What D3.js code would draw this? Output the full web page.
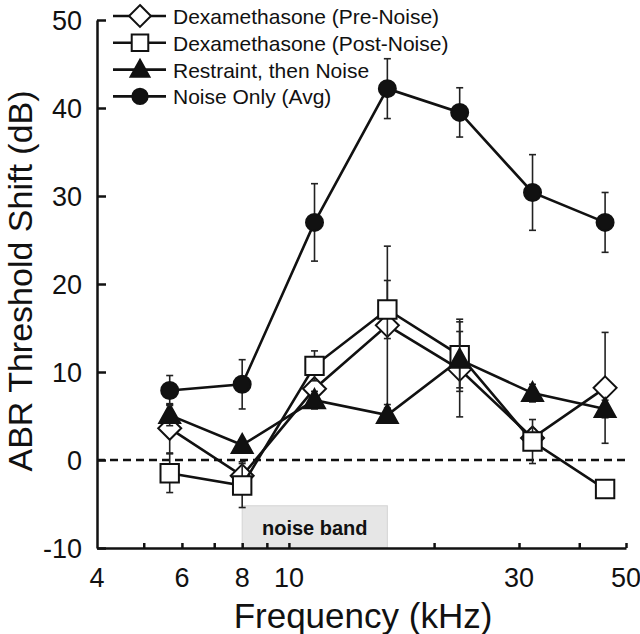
<!DOCTYPE html>
<html>
<head>
<meta charset="utf-8">
<script src="https://cdn.jsdelivr.net/npm/d3@7"></script>
<style>
  body { margin: 0; background: #fff; }
  text { font-family: "Liberation Sans", Arial, Helvetica, sans-serif; fill: #111; }
</style>
</head>
<body>
<div class="chart"></div>
<script>
// data
var freqs = [5.66, 8, 11.3, 16, 22.6, 32, 45.25];

var preNoise = [3.6, -1.8, 8.1, 15.3, 10.3, 2.5, 8.2];
var preNoiseErr = [2.8, 1.6, 1.0, 9.0, 5.4, 1.0, 6.3];

var postNoise = [-1.5, -2.9, 10.7, 17.1, 11.9, 2.1, -3.3];
var postNoiseErr = [2.2, 2.5, 1.7, 3.3, 4.1, 2.5, 0];

var restraint = [5.1, 1.7, 6.8, 5.1, 11.4, 7.6, 5.8];
var restraintErr = [1.2, 0.6, 1.0, 0.8, 3.2, 1.0, 1.0];

var noiseOnly = [7.9, 8.6, 27.0, 42.2, 39.5, 30.4, 27.0];
var noiseOnlyErr = [1.7, 2.8, 4.4, 3.4, 2.8, 4.3, 3.4];

var seriesNames = ["Dexamethasone (Pre-Noise)", "Dexamethasone (Post-Noise)", "Restraint, then Noise", "Noise Only (Avg)"];
var seriesShapes = ["diamond", "square", "triangle", "circle"];

var xTicks = [5, 6, 7, 8, 9, 10, 20, 30, 40, 50];
var xTickLabels = [4, 6, 8, 10, 30, 50];
var yTicks = [-10, 0, 10, 20, 30, 40, 50];
var noiseBand = [8, 16];

var svgWidth = 640;
var svgHeight = 634;

var svg = d3.select(".chart")
  .append("svg")
  .attr("width", svgWidth)
  .attr("height", svgHeight);

var x = d3.scaleLog().domain([4, 50]).range([97, 626]);
var y = d3.scaleLinear().domain([-10, 50]).range([548, 20]);

// noise band box
svg.append("rect")
  .attr("x", x(noiseBand[0]))
  .attr("y", y(-5.2))
  .attr("width", x(noiseBand[1]) - x(noiseBand[0]))
  .attr("height", y(-10) - y(-5.2))
  .attr("fill", "#e6e6e6")
  .attr("stroke", "#d4d4d4")
  .attr("stroke-width", 1);

svg.append("text")
  .attr("x", (x(noiseBand[0]) + x(noiseBand[1])) / 2)
  .attr("y", 535)
  .attr("text-anchor", "middle")
  .style("font-size", "20px")
  .style("font-weight", "bold")
  .text("noise band");

// zero line
svg.append("line")
  .attr("x1", x(4)).attr("x2", x(50))
  .attr("y1", y(0)).attr("y2", y(0))
  .attr("stroke", "#111")
  .attr("stroke-width", 2.5)
  .attr("stroke-dasharray", "8,5");

// axes
var bottomAxis = d3.axisBottom(x).tickValues(xTicks).tickSizeInner(-5).tickSizeOuter(0).tickFormat("");
var leftAxis = d3.axisLeft(y).tickValues(yTicks).tickSizeInner(-9).tickSizeOuter(0).tickFormat("");

var gx = svg.append("g").attr("transform", "translate(0," + y(-10) + ")").call(bottomAxis);
var gy = svg.append("g").attr("transform", "translate(" + x(4) + ",0)").call(leftAxis);
[gx, gy].forEach(function(g) {
  g.select(".domain").attr("stroke", "#111").attr("stroke-width", 2.5);
  g.selectAll(".tick line").attr("stroke", "#111").attr("stroke-width", 2.5);
});

svg.selectAll(".xlab")
  .data(xTickLabels)
  .enter().append("text")
  .attr("x", d => x(d))
  .attr("y", 587)
  .attr("text-anchor", "middle")
  .style("font-size", "27px")
  .text(d => d);

svg.selectAll(".ylab")
  .data(yTicks)
  .enter().append("text")
  .attr("x", 82)
  .attr("y", d => y(d))
  .attr("dy", "0.36em")
  .attr("text-anchor", "end")
  .style("font-size", "27px")
  .text(d => d);

// axis titles
svg.append("text")
  .attr("x", 363)
  .attr("y", 628)
  .attr("text-anchor", "middle")
  .style("font-size", "35px")
  .text("Frequency (kHz)");

svg.append("text")
  .attr("transform", "translate(32,281) rotate(-90)")
  .attr("text-anchor", "middle")
  .style("font-size", "34px")
  .text("ABR Threshold Shift (dB)");

// marker shapes
function shapePath(shape, s) {
  if (shape === "diamond") {
    var h = 11.5 * s;
    return "M0," + (-h) + "L" + h + ",0L0," + h + "L" + (-h) + ",0Z";
  }
  if (shape === "square") {
    var q = 9.2 * s;
    return "M" + (-q) + "," + (-q) + "H" + q + "V" + q + "H" + (-q) + "Z";
  }
  if (shape === "triangle") {
    var w = 10.5 * s, t = 11 * s, b = 8 * s;
    return "M0," + (-t) + "L" + w + "," + b + "L" + (-w) + "," + b + "Z";
  }
  var r = 8.5 * s;
  return "M" + r + ",0A" + r + "," + r + " 0 1,1 " + (-r) + ",0A" + r + "," + r + " 0 1,1 " + r + ",0Z";
}
var shapeFill = { diamond: "#fff", square: "#fff", triangle: "#111", circle: "#111" };

var allSeries = [
  { vals: preNoise, errs: preNoiseErr },
  { vals: postNoise, errs: postNoiseErr },
  { vals: restraint, errs: restraintErr },
  { vals: noiseOnly, errs: noiseOnlyErr }
];

var line = d3.line().x(d => x(d.f)).y(d => y(d.v));

allSeries.forEach(function(s, i) {
  var pts = freqs.map(function(f, j) { return { f: f, v: s.vals[j], e: s.errs[j] }; });
  var g = svg.append("g");

  // error bars
  var eb = g.selectAll(".err").data(pts.filter(d => d.e > 0)).enter().append("g");
  eb.append("line")
    .attr("x1", d => x(d.f)).attr("x2", d => x(d.f))
    .attr("y1", d => y(d.v - d.e)).attr("y2", d => y(d.v + d.e))
    .attr("stroke", "#222").attr("stroke-width", 1.6);
  [-1, 1].forEach(function(sign) {
    eb.append("line")
      .attr("x1", d => x(d.f) - 3.5).attr("x2", d => x(d.f) + 3.5)
      .attr("y1", d => y(d.v + sign * d.e)).attr("y2", d => y(d.v + sign * d.e))
      .attr("stroke", "#222").attr("stroke-width", 1.6);
  });

  g.append("path")
    .datum(pts)
    .attr("d", line)
    .attr("fill", "none")
    .attr("stroke", "#111")
    .attr("stroke-width", 2.6);

  g.selectAll(".mark").data(pts).enter().append("path")
    .attr("transform", d => "translate(" + x(d.f) + "," + y(d.v) + ")")
    .attr("d", shapePath(seriesShapes[i], 1))
    .attr("fill", shapeFill[seriesShapes[i]])
    .attr("stroke", "#111")
    .attr("stroke-width", 2);
});

// legend
var legend = svg.selectAll(".legend")
  .data(seriesNames)
  .enter().append("g")
  .attr("transform", (d, i) => "translate(0," + (16 + i * 26.8) + ")");

legend.append("line")
  .attr("x1", 113).attr("x2", 166)
  .attr("y1", 0).attr("y2", 0)
  .attr("stroke", "#111").attr("stroke-width", 2.6);

legend.append("path")
  .attr("transform", "translate(140,0)")
  .attr("d", (d, i) => shapePath(seriesShapes[i], seriesShapes[i] === "diamond" ? 0.95 : 0.9))
  .attr("fill", (d, i) => shapeFill[seriesShapes[i]])
  .attr("stroke", "#111").attr("stroke-width", 2);

legend.append("text")
  .attr("x", 173)
  .attr("y", 8)
  .style("font-size", "21px")
  .text(d => d);
</script>
</body>
</html>
